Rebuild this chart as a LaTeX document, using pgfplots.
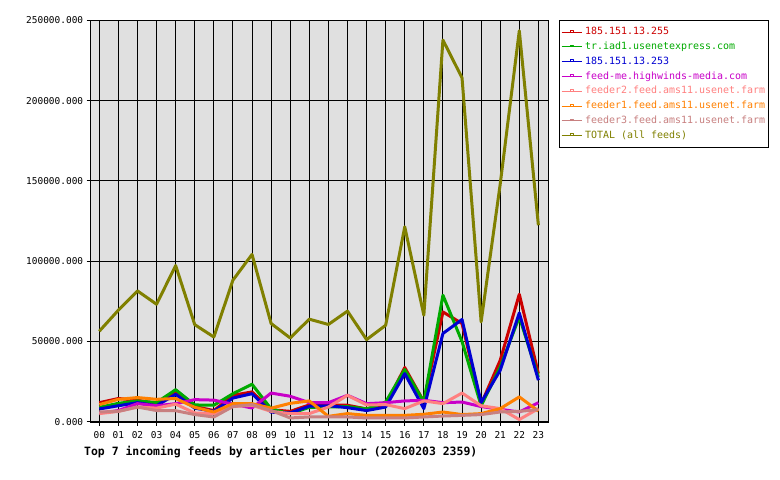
\documentclass[border=0pt]{standalone}
\usepackage{pgfplots}
\pgfplotsset{compat=1.18}
\usepackage{pgfplotstable}
\usepackage{fontspec}
\setmainfont{DejaVu Sans Mono}

\definecolor{bggray}{RGB}{224,224,224}
\definecolor{fred}{RGB}{204,0,0}
\definecolor{fgreen}{RGB}{0,170,0}
\definecolor{fblue}{RGB}{0,0,210}
\definecolor{fmag}{RGB}{200,0,200}
\definecolor{fpink}{RGB}{255,128,128}
\definecolor{forange}{RGB}{255,128,0}
\definecolor{frosy}{RGB}{200,128,128}
\definecolor{ftotal}{RGB}{128,128,0}

% articles per hour for each incoming feed
\pgfplotstableread{
hour red   green blue  mag   pink  orange rosy  total
0    11900 9000  8000  5500  5100  10700  6100  56400
1    14500 11500 10000 7000  6500  14000  6500  69500
2    13400 13000 11900 11300 9200  15100  9200  81500
3    11500 12000 10000 10000 8500  14000  7000  73200
4    18600 20000 17100 11300 11000 14500  6900  97300
5    9500  10500 8500  13800 5500  9000   4500  60500
6    7000  10300 6500  13500 5100  6100   3000  52800
7    16500 17500 14800 11000 9500  11300  9500  88200
8    18600 23400 17500 8600  10300 11300  10700 104200
9    7500  8000  6000  17900 6500  8500   7000  61200
10   6500  5000  5500  15900 5100  11500  2400  52200
11   10500 9000  9700  11900 5100  13000  3000  63900
12   10500 9200  10000 11900 9200  3400   3000  60600
13   10300 9500  8800  16500 16500 5100   3000  68900
14   8000  8000  7000  11300 10500 4000   2400  51200
15   10500 12300 9200  11900 10700 4000   2400  60100
16   33800 32500 30000 13000 8200  4000   2400  121400
17   12500 12500 8200  13400 13000 4700   3000  66400
18   68400 78800 55000 11900 11300 6100   3600  237700
19   61200 50000 63700 12300 17900 4500   4000  214200
20   11000 10000 12000 9500  10000 5100   4500  62200
21   38300 34100 32100 7800  8200  8200   6100  148000
22   79400 65300 67800 6100  1400  15500  6500  243500
23   30000 27900 25900 11900 8200  6700   7600  122400
}\feeds

\begin{document}
\begin{tikzpicture}
\path[use as bounding box] (0bp,0bp) rectangle (780bp,480bp);
\begin{axis}[
  at={(90.7bp,58.2bp)}, anchor=south west,
  scale only axis, width=458bp, height=401.5bp,
  xmin=-0.45, xmax=23.54, ymin=0, ymax=250000,
  axis background/.style={fill=bggray},
  xtick={0,...,23},
  xticklabels={00,01,02,03,04,05,06,07,08,09,10,11,12,13,14,15,16,17,18,19,20,21,22,23},
  ytick={0,50000,100000,150000,200000,250000},
  yticklabels={0.000,50000.000,100000.000,150000.000,200000.000,250000.000},
  scaled y ticks=false,
  xtick pos=bottom, ytick pos=left,
  grid=major, major grid style={black, line width=1bp},
  axis line style={black, line width=1.5bp},
  tick style={black, line width=1bp}, tick align=outside, major tick length=4bp,
  /pgf/number format/assume math mode=true,
  ticklabel style={font=\fontsize{9.5}{10}\selectfont},
  xticklabel style={yshift=-2bp},
  every axis plot/.append style={line width=3bp, line join=round, mark=none},
  legend image code/.code={
    \draw[#1, line width=1bp] (0bp,0bp) -- (20bp,0bp);
    \draw[#1, line width=0.8bp] (8.5bp,0bp) -- (8.5bp,2bp) -- (11.5bp,2bp) -- (11.5bp,0bp);
  },
  legend cell align=left,
  legend style={
    at={(1.0218,1)}, anchor=north west,
    draw=black, line width=1bp, fill=white,
    font=\fontsize{10}{12}\selectfont,
    inner xsep=2bp, inner ysep=4bp, column sep=2bp, row sep=0pt,
    nodes={inner xsep=1bp, inner ysep=2.9bp, text height=7bp, text depth=2bp},
  },
]
\addplot[fred]    table[x=hour, y=red]    {\feeds};
\addlegendentry{\textcolor{fred}{185.151.13.255}}
\addplot[fgreen]  table[x=hour, y=green]  {\feeds};
\addlegendentry{\textcolor{fgreen}{tr.iad1.usenetexpress.com}}
\addplot[fblue]   table[x=hour, y=blue]   {\feeds};
\addlegendentry{\textcolor{fblue}{185.151.13.253}}
\addplot[fmag]    table[x=hour, y=mag]    {\feeds};
\addlegendentry{\textcolor{fmag}{feed-me.highwinds-media.com}}
\addplot[fpink]   table[x=hour, y=pink]   {\feeds};
\addlegendentry{\textcolor{fpink}{feeder2.feed.ams11.usenet.farm}}
\addplot[forange] table[x=hour, y=orange] {\feeds};
\addlegendentry{\textcolor{forange}{feeder1.feed.ams11.usenet.farm}}
\addplot[frosy]   table[x=hour, y=rosy]   {\feeds};
\addlegendentry{\textcolor{frosy}{feeder3.feed.ams11.usenet.farm}}
\addplot[ftotal]  table[x=hour, y=total]  {\feeds};
\addlegendentry{\textcolor{ftotal}{TOTAL (all feeds)}}
\end{axis}
\node[anchor=west, font=\bfseries\fontsize{11.5}{12}\selectfont, inner sep=0pt]
  at (84bp,28bp) {Top 7 incoming feeds by articles per hour (20260203 2359)};
\end{tikzpicture}
\end{document}
